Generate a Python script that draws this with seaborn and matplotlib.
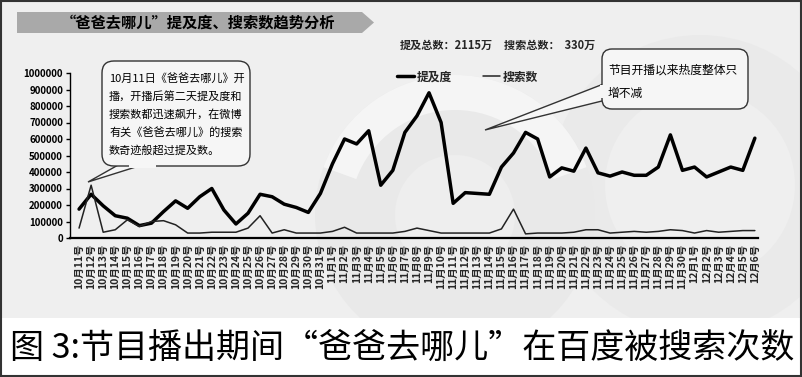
import pandas as pd
import seaborn as sns
import matplotlib.pyplot as plt
from matplotlib.patches import Rectangle, FancyBboxPatch, Polygon, Circle, Wedge

# Data
dates = ([f"10月{d}号" for d in range(11, 32)]
         + [f"11月{d}号" for d in range(1, 31)]
         + [f"12月{d}号" for d in range(1, 7)])

mention = [175000, 265000, 195000, 135000, 120000, 75000, 90000, 160000, 225000, 180000,
           250000, 300000, 170000, 85000, 150000, 265000, 250000, 205000, 185000, 155000,
           270000,
           450000, 600000, 570000, 650000, 320000, 410000, 640000, 740000, 880000, 700000,
           210000, 275000, 270000, 265000, 430000, 515000, 640000, 600000, 370000, 425000,
           405000, 545000, 395000, 375000, 400000, 380000, 380000, 430000, 625000, 410000,
           430000, 370000, 400000, 430000, 410000, 605000]

search = [60000, 320000, 35000, 50000, 110000, 70000, 100000, 105000, 80000, 30000,
          30000, 35000, 35000, 35000, 60000, 135000, 30000, 50000, 30000, 30000,
          30000,
          40000, 65000, 30000, 30000, 30000, 30000, 40000, 60000, 45000, 30000,
          30000, 30000, 30000, 30000, 55000, 175000, 25000, 30000, 30000, 30000,
          35000, 50000, 50000, 30000, 35000, 40000, 35000, 40000, 50000, 45000,
          30000, 45000, 35000, 40000, 45000, 45000]

y_ticks = [0, 100000, 200000, 300000, 400000, 500000, 600000, 700000, 800000, 900000, 1000000]

df = pd.DataFrame({'pos': range(len(dates)), '提及度': mention, '搜索数': search})

W, H = 802, 377
sns.set_theme(style="white")
plt.rcParams['font.family'] = ['Noto Sans CJK SC', 'DejaVu Sans']
plt.rcParams['axes.unicode_minus'] = False
num_font = ['Liberation Sans Narrow', 'Noto Sans CJK SC']

fig = plt.figure(figsize=(W / 100, H / 100), dpi=100)
fig.patch.set_facecolor('white')

# background layer in pixel coordinates
bg = fig.add_axes([0, 0, 1, 1], zorder=0)
bg.set_xlim(0, W)
bg.set_ylim(H, 0)
bg.axis('off')
bg.add_patch(Rectangle((0, 0), W, 318, facecolor='#efefef', edgecolor='none'))
# faint watermark circles
bg.add_patch(Circle((700, 185), 150, facecolor='#eaeaea', edgecolor='none'))
bg.add_patch(Circle((700, 185), 95, facecolor='#efefef', edgecolor='none'))
bg.add_patch(Circle((455, 215), 140, facecolor='#e9e9e9', edgecolor='none'))
bg.add_patch(Wedge((455, 215), 140, 200, 340, width=35, facecolor='#f5f5f5', edgecolor='none'))
bg.add_patch(Circle((455, 215), 60, facecolor='#eeeeee', edgecolor='none'))
bg.add_patch(Rectangle((0, 318), W, H - 318, facecolor='white', edgecolor='none'))
bg.add_patch(Rectangle((1, 1), W - 2, H - 2, facecolor='none', edgecolor='#333333', lw=1.5))

# title banner
bg.add_patch(Polygon([(17, 12), (362, 12), (374, 22.5), (362, 33), (17, 33)],
                     closed=True, facecolor='#a9a9a9', edgecolor='none'))
bg.text(198, 23, '“爸爸去哪儿”提及度、搜索数趋势分析', ha='center', va='center',
        fontsize=11, fontweight='bold', color='black')

# main chart
ax = fig.add_axes([70 / W, 1 - 238 / H, (758 - 70) / W, (238 - 73) / H], zorder=1)
ax.patch.set_alpha(0)
sns.lineplot(data=df, x='pos', y='提及度', ax=ax, color='black', lw=2.5, label='提及度')
sns.lineplot(data=df, x='pos', y='搜索数', ax=ax, color='#222222', lw=1.1, label='搜索数')
ax.set_xlim(-0.75, len(dates) - 1 + 0.26)
ax.set_ylim(0, 1000000)
ax.set_xticks(range(len(dates)))
ax.set_xticklabels(dates, rotation=90, fontsize=7.5, fontweight='bold', family=num_font)
ax.set_yticks(y_ticks)
ax.set_yticklabels([str(v) for v in y_ticks], fontsize=7, fontweight='bold', family=num_font)
ax.tick_params(axis='y', length=3, width=1, direction='out', pad=2, colors='black', left=True)
ax.tick_params(axis='x', length=0, pad=4)
ax.set_xlabel('')
ax.set_ylabel('')
for side in ['top', 'right']:
    ax.spines[side].set_visible(False)
ax.spines['left'].set_color('black')
ax.spines['left'].set_linewidth(1.0)
ax.spines['bottom'].set_color('black')
ax.spines['bottom'].set_linewidth(1.6)
ax.legend(loc='center left', bbox_to_anchor=(386 / W, 1 - 77 / H), bbox_transform=fig.transFigure,
          ncol=2, frameon=False, handlelength=1.5, handletextpad=0.2, columnspacing=2.6,
          prop={'size': 8.5, 'weight': 'bold'})

# overlay layer for callouts
ov = fig.add_axes([0, 0, 1, 1], zorder=2)
ov.set_xlim(0, W)
ov.set_ylim(H, 0)
ov.axis('off')

ov.text(400, 45, '提及总数：2115万', ha='left', va='center', fontsize=8, fontweight='bold')
ov.text(504, 45, '搜索总数：  330万', ha='left', va='center', fontsize=8, fontweight='bold')

# callout 1
ov.add_patch(Polygon([(127, 160), (88, 182), (158, 160)], closed=True,
                     facecolor='#f6f6f6', edgecolor='#333333', lw=1))
ov.add_patch(FancyBboxPatch((102, 61), 148, 105, boxstyle='round,pad=0,rounding_size=12',
                            facecolor='#f6f6f6', edgecolor='#333333', lw=1))
ov.add_patch(Rectangle((129, 163), 27, 5, facecolor='#f6f6f6', edgecolor='none'))
lines1 = ['10月11日《爸爸去哪儿》开', '播，开播后第二天提及度和', '搜索数都迅速飙升，在微博',
          '有关《爸爸去哪儿》的搜索', '数奇迹般超过提及数。']
for k, t in enumerate(lines1):
    ov.text(109, 78 + k * 18, t, ha='left', va='center', fontsize=8, color='black')

# callout 2
ov.add_patch(Polygon([(606, 83), (485, 130), (606, 100)], closed=True,
                     facecolor='#f6f6f6', edgecolor='#333333', lw=1))
ov.add_patch(FancyBboxPatch((602, 49), 146, 60, boxstyle='round,pad=0,rounding_size=10',
                            facecolor='#f6f6f6', edgecolor='#333333', lw=1))
ov.add_patch(Rectangle((600, 85), 7, 13, facecolor='#f6f6f6', edgecolor='none'))
ov.text(608, 70, '节目开播以来热度整体只', ha='left', va='center', fontsize=8.5, color='black')
ov.text(608, 93, '增不减', ha='left', va='center', fontsize=8.5, color='black')

# caption
ov.text(402, 349, '图 3:节目播出期间“爸爸去哪儿”在百度被搜索次数', ha='center', va='center',
        fontsize=24.5, color='black')

fig.savefig('out.png', dpi=100)
